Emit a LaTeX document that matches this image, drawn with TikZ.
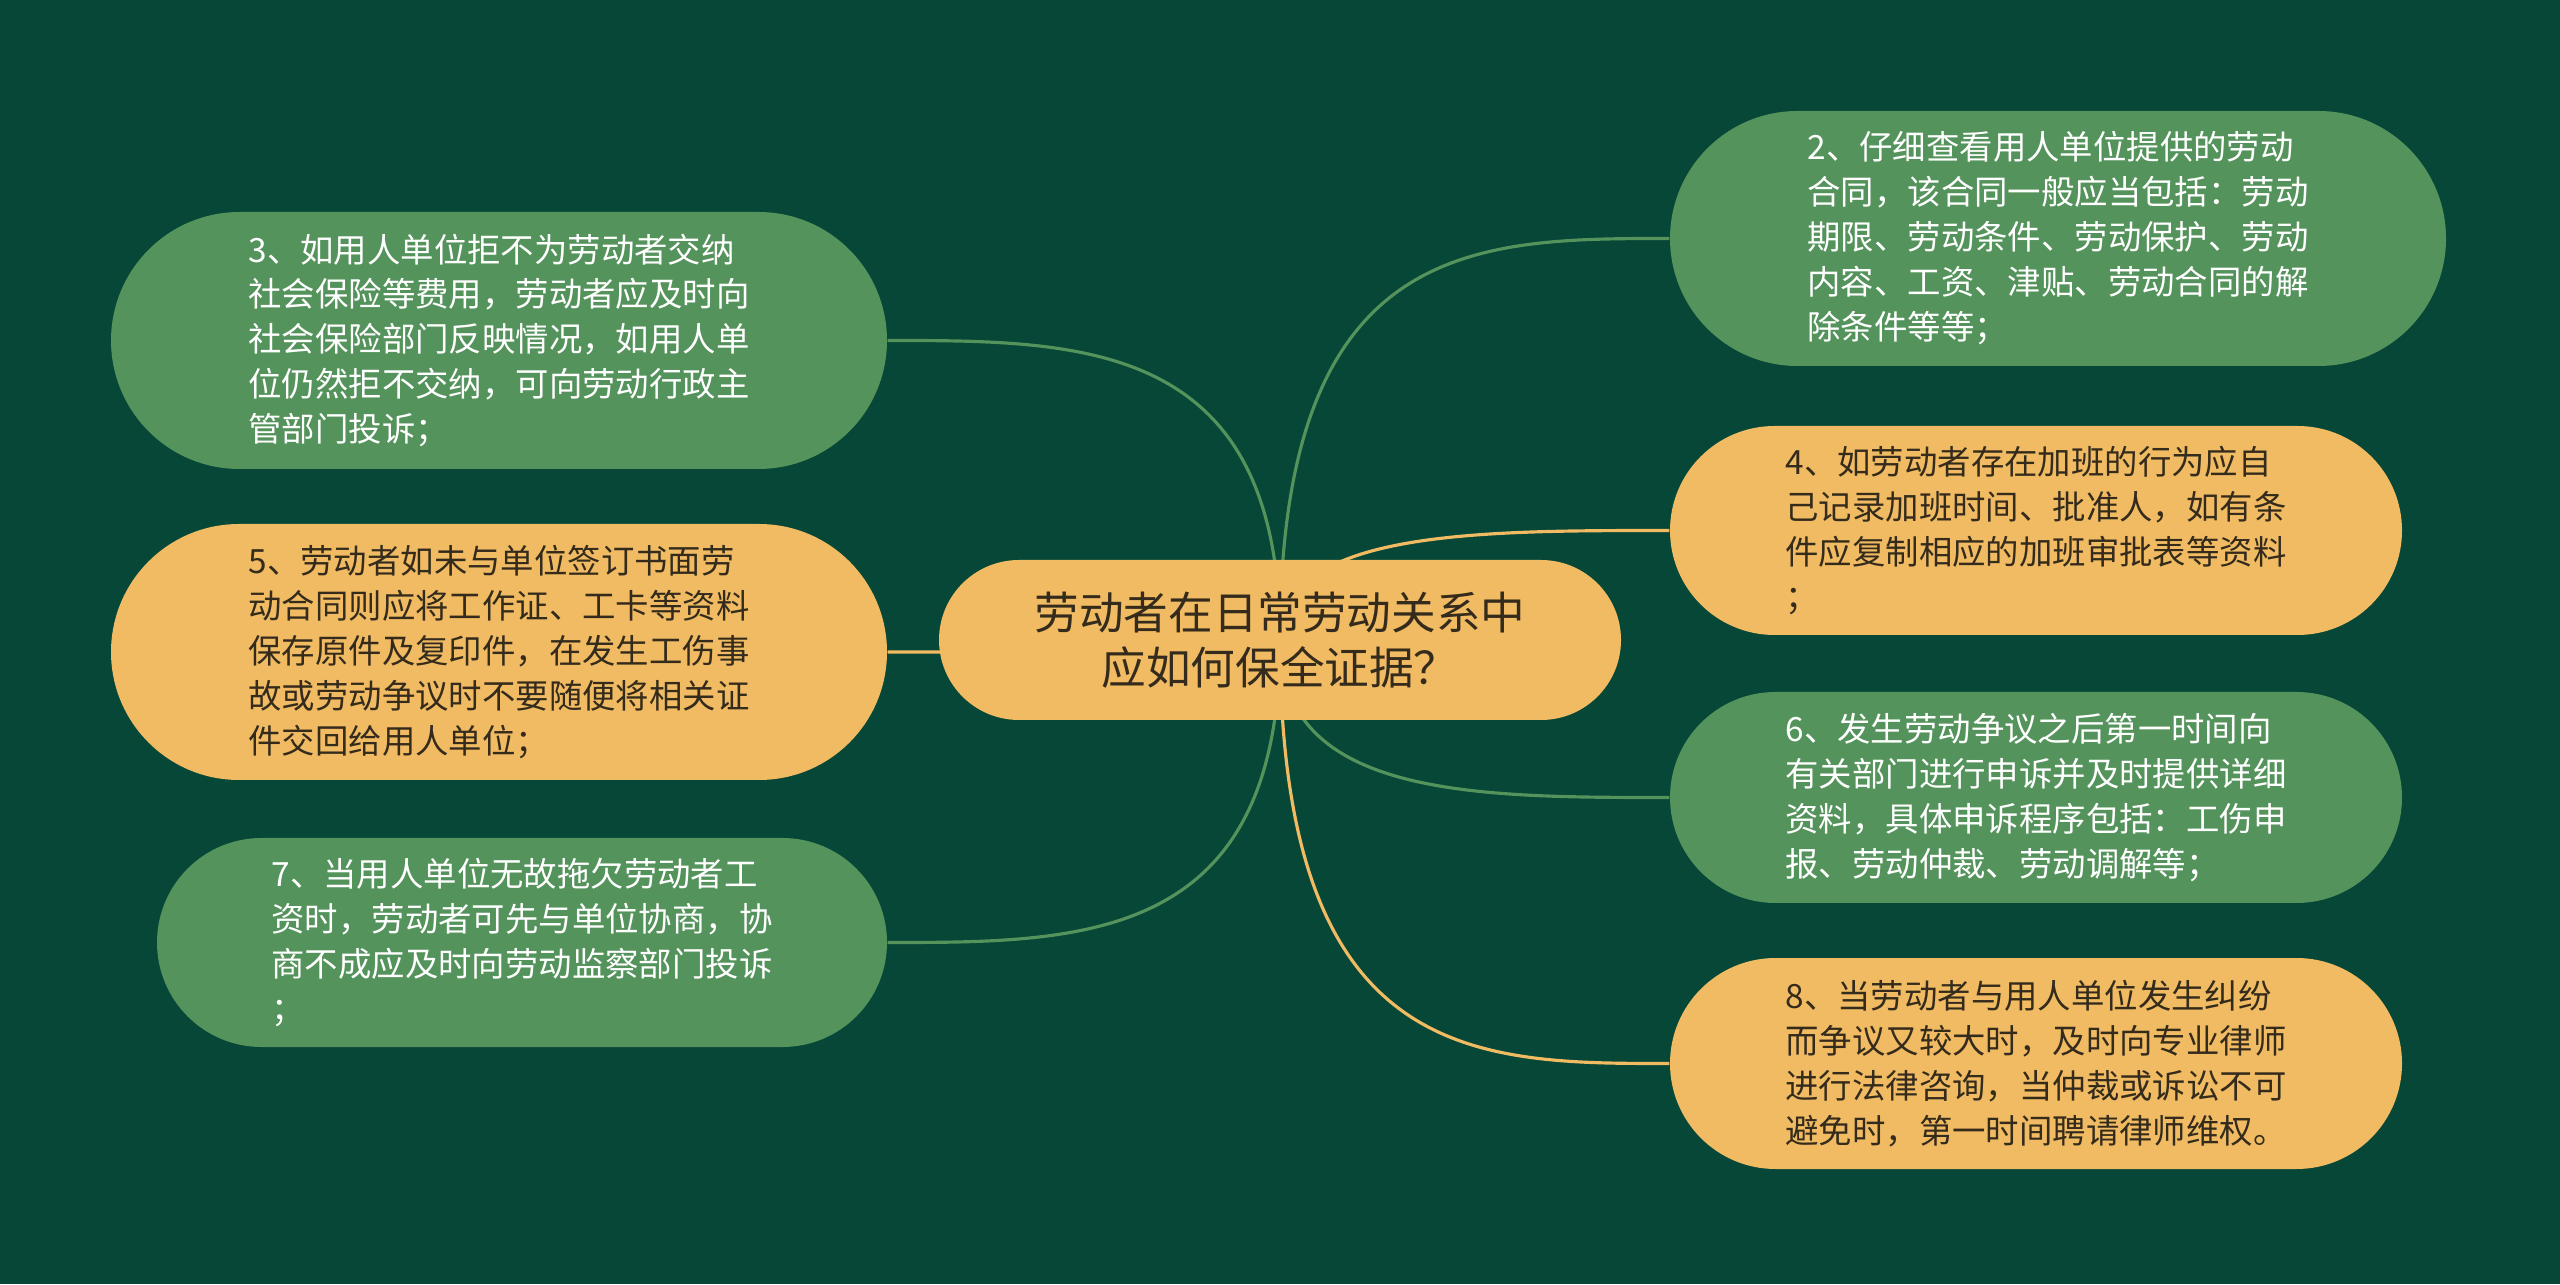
\documentclass[tikz,border=0pt]{standalone}
\usepackage{fontspec}
\setmainfont{Noto Sans CJK SC}
\usetikzlibrary{shapes.misc,calc,backgrounds}
\definecolor{mapbg}{RGB}{7,71,55}
\definecolor{mapgreen}{RGB}{84,147,91}
\definecolor{maporange}{RGB}{240,187,98}
\definecolor{mapink}{RGB}{52,43,28}

\begin{document}
\begin{tikzpicture}[
  pill/.style={rounded rectangle, inner sep=0pt, align=left,
               font=\fontsize{9.5}{12.8}\selectfont},
  gpill/.style={pill, fill=mapgreen, text=white},
  opill/.style={pill, fill=maporange, text=mapink},
  gline/.style={mapgreen, line width=0.9pt},
  oline/.style={maporange, line width=0.9pt}
]
\useasboundingbox (0,0) rectangle (25.6,12.84);

% root
\node[opill, minimum width=6.82cm, minimum height=1.6cm, align=center,
      font=\fontsize{12.7}{15.8}\selectfont] (hub) at (12.80,6.44)
      {劳动者在日常劳动关系中\\应如何保全证据？};

% left branches
\node[gpill, minimum width=7.76cm, minimum height=2.57cm] (n3) at (4.99,9.435)
  {3、如用人单位拒不为劳动者交纳\\社会保险等费用，劳动者应及时向\\社会保险部门反映情况，如用人单\\位仍然拒不交纳，可向劳动行政主\\管部门投诉；};
\node[opill, minimum width=7.76cm, minimum height=2.56cm] (n5) at (4.99,6.32)
  {5、劳动者如未与单位签订书面劳\\动合同则应将工作证、工卡等资料\\保存原件及复印件，在发生工伤事\\故或劳动争议时不要随便将相关证\\件交回给用人单位；};
\node[gpill, minimum width=7.30cm, minimum height=2.09cm] (n7) at (5.22,3.415)
  {7、当用人单位无故拖欠劳动者工\\资时，劳动者可先与单位协商，协\\商不成应及时向劳动监察部门投诉\\；};

% right branches
\node[gpill, minimum width=7.76cm, minimum height=2.55cm] (n2) at (20.58,10.455)
  {2、仔细查看用人单位提供的劳动\\合同，该合同一般应当包括：劳动\\期限、劳动条件、劳动保护、劳动\\内容、工资、津贴、劳动合同的解\\除条件等等；};
\node[opill, minimum width=7.32cm, minimum height=2.09cm] (n4) at (20.36,7.535)
  {4、如劳动者存在加班的行为应自\\己记录加班时间、批准人，如有条\\件应复制相应的加班审批表等资料\\；};
\node[gpill, minimum width=7.32cm, minimum height=2.11cm] (n6) at (20.36,4.865)
  {6、发生劳动争议之后第一时间向\\有关部门进行申诉并及时提供详细\\资料，具体申诉程序包括：工伤申\\报、劳动仲裁、劳动调解等；};
\node[opill, minimum width=7.32cm, minimum height=2.11cm] (n8) at (20.36,2.205)
  {8、当劳动者与用人单位发生纠纷\\而争议又较大时，及时向专业律师\\进行法律咨询，当仲裁或诉讼不可\\避免时，第一时间聘请律师维权。};

\begin{scope}[on background layer]
  \fill[mapbg] (0,0) rectangle (25.6,12.84);
  \foreach \n/\side/\col in {n3/east/gline, n5/east/oline, n7/east/gline,
      n2/west/gline, n4/west/oline, n6/west/gline, n8/west/oline}
    \draw[\col] (hub.center) .. controls (hub.center |- \n.\side)
      and ($(hub.center |- \n.\side)!0.5!(\n.\side)$) .. (\n.\side);
\end{scope}
\end{tikzpicture}
\end{document}
